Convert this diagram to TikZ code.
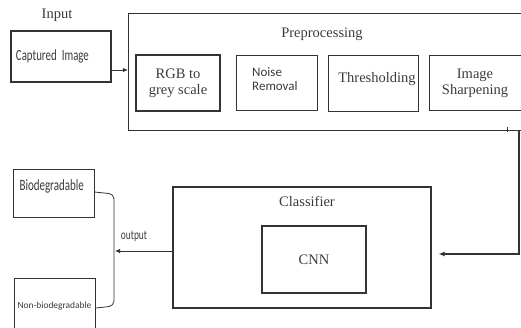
\documentclass[tikz,border=0pt]{standalone}
\usepackage{fontspec}
\setmainfont{Liberation Serif}
\newfontfamily\calfont[FakeStretch=0.7]{Carlito}
\newfontfamily\calnorm{Carlito}
\usetikzlibrary{arrows.meta}
\definecolor{ln}{HTML}{333333}
\definecolor{tx}{HTML}{3A3A3A}
\tikzset{
  box/.style={draw=ln, line width=1.1pt, rectangle, inner sep=0pt, text=tx},
  thinbox/.style={draw=ln, line width=0.8pt, rectangle, inner sep=0pt, text=tx},
  serif/.style={font=\fontsize{14.5}{16}\selectfont, text=tx, align=center},
  sans/.style={text=tx},
  conn/.style={draw=ln, line width=0.9pt},
}
\begin{document}
\begin{tikzpicture}[x=1pt,y=-1pt]
\useasboundingbox (0,0) rectangle (521,327);
\clip (0,0) rectangle (521,327);
% Input
\node[serif] (inlbl) at (57,15) {Input};
\node[box, minimum width=100pt, minimum height=51pt, text width=90pt, align=left,
      font=\calfont\fontsize{15.5}{17}\selectfont] (cap) at (61,56.5) {Captured Image};
% Preprocessing outer
\node[box, minimum width=396pt, minimum height=117pt, anchor=north west] (pre) at (128,13) {};
\node[serif] (prelbl) at (322,34) {Preprocessing};
\node[box, line width=1.5pt, minimum width=84pt, minimum height=56pt, serif] (rgb) at (178,83) {RGB to\\grey scale};
\node[thinbox, minimum width=81pt, minimum height=55pt] (noise) at (276.5,82.5) {};
\node[sans, anchor=west, align=left, inner sep=0pt, font=\calnorm\fontsize{13}{14}\selectfont] (noiselbl) at (252,79) {Noise\\Removal};
\node[thinbox, minimum width=90pt, minimum height=56pt] (thr) at (373,83) {};
\node[serif] (thrlbl) at (377,79) {Thresholding};
\node[thinbox, minimum width=100pt, minimum height=55pt, anchor=north west] (sharp) at (429,55) {};
\node[serif] (sharplbl) at (475,83) {Image\\Sharpening};
\draw[conn, -{Latex[length=5pt,width=4.5pt]}] (cap.east |- 0,70) -- (pre.west |- 0,70);
% Classifier
\node[box, minimum width=258pt, minimum height=121pt] (cls) at (302,247.5) {};
\node[serif] (clslbl) at (307,201) {Classifier};
\node[box, line width=1.2pt, minimum width=104pt, minimum height=67pt, serif] (cnn) at (314,259.5) {CNN};
% feedback
\coordinate (fb0) at (519,130);
\coordinate (fb1) at (519,254);
\draw[conn, line width=1.2pt, shorten >=7pt, -{Latex[length=6pt,width=5pt]}] (fb0) -- (fb1) -- (cls.east |- fb1);
\draw[ln, line width=0.6pt] (507,127) -- (507,132);
% outputs
\node[thinbox, minimum width=81pt, minimum height=48pt] (bio) at (53.5,193) {};
\node[sans, anchor=west, font=\calfont\fontsize{15.7}{17}\selectfont] (biolbl) at (16,186) {Biodegradable};
\node[thinbox, minimum width=81pt, minimum height=56pt, anchor=north west] (nonbio) at (14,278) {};
\node[sans, font=\calnorm\fontsize{9.4}{11}\selectfont] (nonbiolbl) at (54.5,306) {Non-biodegradable};
\draw[conn, line width=0.8pt, rounded corners=5pt] (bio.east |- 0,192) -- (114,194) -- (114,306) -- (nonbio.east |- 0,308);
\coordinate (br) at (115,251);
\draw[conn, line width=0.8pt, -{Latex[length=5pt,width=4.5pt]}] (cls.west |- br) -- (br);
\node[sans, font=\calfont\fontsize{13.4}{15}\selectfont] (outlbl) at (134,236) {output};
\end{tikzpicture}
\end{document}
